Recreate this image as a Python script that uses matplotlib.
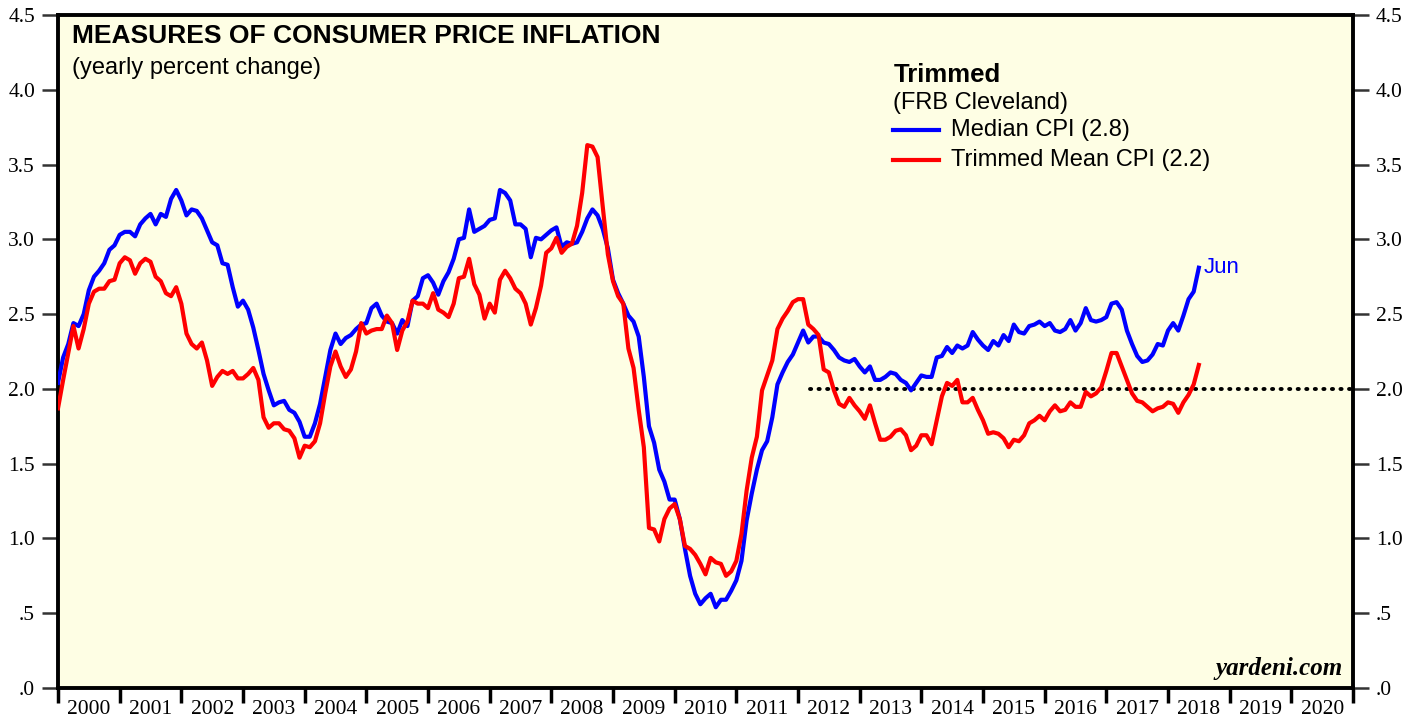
import numpy as np
import pandas as pd
import matplotlib
matplotlib.use("Agg")
import matplotlib.pyplot as plt
from matplotlib.ticker import FixedLocator, FuncFormatter

# monthly data, Dec 1999 .. Jun 2018 (yearly % change)
dates = pd.date_range("1999-12-01", "2018-06-01", freq="MS")

median_cpi = [
    2.04, 2.21, 2.30, 2.44, 2.42, 2.50, 2.66, 2.75, 2.79, 2.84, 2.93, 2.96, 3.03, 3.05, 3.05, 3.02,
    3.10, 3.14, 3.17, 3.10, 3.17, 3.15, 3.27, 3.33, 3.26, 3.16, 3.20, 3.19, 3.14, 3.06, 2.98, 2.96,
    2.84, 2.83, 2.68, 2.55, 2.59, 2.53,
    2.41, 2.26, 2.10, 1.99, 1.89, 1.91, 1.92, 1.86, 1.84, 1.78, 1.68, 1.68, 1.77, 1.90, 2.08, 2.26,
    2.37, 2.30, 2.34, 2.36, 2.40, 2.43, 2.44, 2.54, 2.57, 2.49, 2.45, 2.44, 2.37, 2.46, 2.42, 2.59,
    2.62, 2.74, 2.76, 2.71, 2.63,
    2.72, 2.78, 2.87, 3.00, 3.01, 3.20, 3.05, 3.07, 3.09, 3.13, 3.14, 3.33, 3.31, 3.26, 3.10, 3.10,
    3.07, 2.88, 3.01, 3.00, 3.03, 3.06, 3.08, 2.95, 2.98, 2.97, 2.98, 3.05, 3.14, 3.20, 3.16, 3.07,
    2.94, 2.73, 2.64, 2.57, 2.49,
    2.45, 2.35, 2.08, 1.75, 1.64, 1.46, 1.38, 1.26, 1.26, 1.13, 0.93, 0.75, 0.63, 0.56, 0.60, 0.63,
    0.54, 0.59, 0.59, 0.65, 0.72, 0.85, 1.12, 1.30, 1.46, 1.59, 1.65, 1.81, 2.03, 2.11, 2.18, 2.23,
    2.31, 2.39, 2.31, 2.35, 2.35,
    2.31, 2.30, 2.26, 2.21, 2.19, 2.18, 2.20, 2.15, 2.11, 2.15, 2.06, 2.06, 2.08, 2.11, 2.10, 2.06,
    2.04, 1.99, 2.04, 2.09, 2.08, 2.08, 2.21, 2.22, 2.28, 2.24, 2.29, 2.27, 2.29, 2.38, 2.33, 2.29,
    2.26, 2.32, 2.29, 2.36, 2.32,
    2.43, 2.38, 2.37, 2.42, 2.43, 2.45, 2.42, 2.44, 2.39, 2.38, 2.40, 2.46, 2.39, 2.44, 2.54, 2.46,
    2.45, 2.46, 2.48, 2.57, 2.58, 2.53, 2.39, 2.30, 2.22, 2.18, 2.19, 2.23, 2.30, 2.29, 2.39, 2.44,
    2.39, 2.49, 2.60, 2.65, 2.81,
]

trimmed_mean_cpi = [
    1.87, 2.06, 2.24, 2.42, 2.27, 2.40, 2.57, 2.65, 2.67, 2.67, 2.72, 2.73, 2.84, 2.88, 2.86, 2.77,
    2.84, 2.87, 2.85, 2.75, 2.72, 2.64, 2.62, 2.68, 2.57, 2.37, 2.30, 2.27, 2.31, 2.19, 2.02, 2.08,
    2.12, 2.10, 2.12, 2.07, 2.07, 2.10,
    2.14, 2.06, 1.81, 1.74, 1.77, 1.77, 1.73, 1.72, 1.67, 1.54, 1.62, 1.61, 1.65, 1.77, 1.97, 2.15,
    2.25, 2.15, 2.08, 2.13, 2.25, 2.44, 2.37, 2.39, 2.40, 2.40, 2.49, 2.44, 2.26, 2.39, 2.45, 2.59,
    2.57, 2.57, 2.54, 2.64, 2.53,
    2.51, 2.48, 2.57, 2.74, 2.75, 2.87, 2.70, 2.63, 2.47, 2.57, 2.51, 2.73, 2.79, 2.74, 2.67, 2.64,
    2.57, 2.43, 2.54, 2.69, 2.91, 2.94, 3.01, 2.91, 2.95, 2.97, 3.09, 3.31, 3.63, 3.62, 3.55, 3.22,
    2.90, 2.72, 2.62, 2.57, 2.27,
    2.14, 1.86, 1.61, 1.07, 1.06, 0.98, 1.13, 1.20, 1.23, 1.13, 0.95, 0.93, 0.89, 0.83, 0.76, 0.87,
    0.84, 0.83, 0.75, 0.78, 0.85, 1.03, 1.32, 1.54, 1.68, 1.99, 2.09, 2.19, 2.40, 2.47, 2.52, 2.58,
    2.60, 2.60, 2.43, 2.40, 2.36,
    2.13, 2.11, 1.99, 1.90, 1.88, 1.94, 1.89, 1.85, 1.80, 1.89, 1.77, 1.66, 1.66, 1.68, 1.72, 1.73,
    1.69, 1.59, 1.62, 1.69, 1.69, 1.63, 1.79, 1.95, 2.04, 2.02, 2.06, 1.91, 1.91, 1.94, 1.86, 1.79,
    1.70, 1.71, 1.70, 1.67, 1.61,
    1.66, 1.65, 1.69, 1.77, 1.79, 1.82, 1.79, 1.85, 1.89, 1.85, 1.86, 1.91, 1.88, 1.88, 1.98, 1.95,
    1.97, 2.01, 2.12, 2.24, 2.24, 2.15, 2.06, 1.97, 1.92, 1.91, 1.88, 1.85, 1.87, 1.88, 1.91, 1.90,
    1.84, 1.91, 1.96, 2.03, 2.16,
]

years = list(range(2000, 2021))
target_level = 2.0
target_start = 2012.2

# month plotted at end of month -> decimal year
xdec = dates.year + dates.month / 12.0

serif = ["Liberation Serif", "DejaVu Serif"]
sans = ["Liberation Sans", "DejaVu Sans"]

fig = plt.figure(figsize=(14.19, 7.19), dpi=100)
ax = fig.add_axes([58 / 1419, 1 - 688 / 719, (1353 - 58) / 1419, (688 - 15) / 719])
ax.set_facecolor("#fefee4")

ax.plot(xdec, median_cpi, color="#0000ff", lw=3.0, solid_joinstyle="round", zorder=3)
ax.plot(xdec, trimmed_mean_cpi, color="#ff0000", lw=3.0, solid_joinstyle="round", zorder=3)
ax.plot([target_start, 2021], [target_level, target_level], color="black", lw=2.8,
        linestyle=(0, (0.3, 1.9)), dash_capstyle="round", zorder=2)

ax.set_xlim(2000, 2021)
ax.set_ylim(0, 4.5)

# y axis, both sides
yt = np.arange(0, 4.51, 0.5)
ax.set_yticks(yt)
fmt = FuncFormatter(lambda v, p: ("%.1f" % v).lstrip("0") if v < 1 else "%.1f" % v)
ax.yaxis.set_major_formatter(fmt)
ax.tick_params(axis="y", which="major", direction="out", length=11.5, width=1.8, color="#333333",
               labelsize=15.5, pad=5, left=True, right=True, labelleft=True, labelright=True)
for lab in ax.get_yticklabels():
    lab.set_family(serif)

# x axis: ticks at year boundaries, labels centred in the year
ax.xaxis.set_major_locator(FixedLocator(list(range(2000, 2022))))
ax.xaxis.set_minor_locator(FixedLocator([y + 0.5 for y in years]))
ax.xaxis.set_major_formatter(FuncFormatter(lambda v, p: ""))
ax.xaxis.set_minor_formatter(FuncFormatter(lambda v, p: "%d" % int(v)))
ax.tick_params(axis="x", which="major", direction="out", length=11, width=2.5, color="black")
ax.tick_params(axis="x", which="minor", length=0, labelsize=15.5, pad=9)
for lab in ax.get_xticklabels(minor=True):
    lab.set_family(serif)

for s in ax.spines.values():
    s.set_linewidth(2.8)
    s.set_color("black")

# titles
ax.text(0.011, 0.986, "MEASURES OF CONSUMER PRICE INFLATION", transform=ax.transAxes,
        family=sans, fontsize=19, fontweight="bold", va="top", ha="left")
ax.text(0.011, 0.938, "(yearly percent change)", transform=ax.transAxes,
        family=sans, fontsize=17, va="top", ha="left")

# legend block
ax.text(0.645, 0.928, "Trimmed", transform=ax.transAxes, family=sans, fontsize=18.5,
        fontweight="bold", va="top", ha="left")
ax.text(0.645, 0.886, "(FRB Cleveland)", transform=ax.transAxes, family=sans, fontsize=17,
        va="top", ha="left")
leg_rows = [("Median CPI (2.8)", "#0000ff", 0.829), ("Trimmed Mean CPI (2.2)", "#ff0000", 0.785)]
for label, col, yy in leg_rows:
    ax.plot([0.645, 0.680], [yy, yy], transform=ax.transAxes, color=col, lw=3.0, zorder=4)
    ax.text(0.6895, yy, label, transform=ax.transAxes, family=sans, fontsize=17,
            va="center", ha="left")

ax.text(xdec[-1] + 0.08, median_cpi[-1], "Jun", color="#0000ff", family=sans, fontsize=16,
        va="center", ha="left")

ax.text(0.992, 0.012, "yardeni.com", transform=ax.transAxes, family=serif, fontsize=18,
        fontweight="bold", style="italic", va="bottom", ha="right")

fig.savefig("out.png", dpi=100)
